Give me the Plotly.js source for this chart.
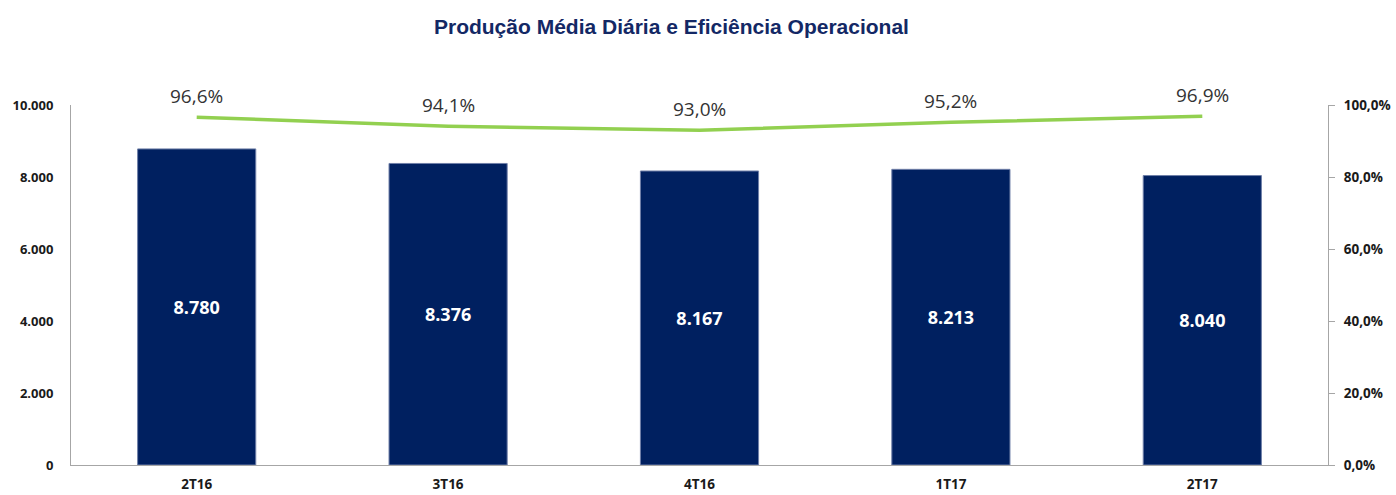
<!DOCTYPE html>
<html>
<head>
<meta charset="utf-8">
<script src="https://cdn.plot.ly/plotly-3.0.1.min.js"></script>
<style>html,body{margin:0;padding:0;background:#fff;}#chart{width:1396px;height:495px;}</style>
</head>
<body>
<div id="chart"></div>
<script>
var categories = ["2T16", "3T16", "4T16", "1T17", "2T17"];
var production = [8780, 8376, 8167, 8213, 8040];
var efficiency = [0.966, 0.941, 0.930, 0.952, 0.969];
var titleText = "Produção Média Diária e Eficiência Operacional";

function pct(v) { return (v * 100).toFixed(1).replace(".", ",") + "%"; }

var bars = {
  type: "bar", x: categories, y: production,
  marker: {color: "#002060", line: {color: "#6f7fa8", width: 1}},
  width: 0.47,
  texttemplate: "%{y:,.0f}", textposition: "inside", insidetextanchor: "middle",
  textfont: {family: "Open Sans, sans-serif", size: 18, color: "#ffffff", weight: "bold"},
  hoverinfo: "none", cliponaxis: false
};
var line = {
  type: "scatter", mode: "lines", x: categories, y: efficiency, yaxis: "y2",
  line: {color: "#92D050", width: 3.5},
  cliponaxis: false, hoverinfo: "none"
};
var annotations = categories.map(function (c, i) {
  return {x: c, y: efficiency[i], xref: "x", yref: "y2", text: pct(efficiency[i]),
    showarrow: false, xanchor: "center", yanchor: "middle", yshift: 21,
    font: {family: "Open Sans, sans-serif", size: 19, color: "#333333"}};
});
var layout = {
  width: 1396, height: 495,
  separators: ",.",
  showlegend: false,
  paper_bgcolor: "#ffffff", plot_bgcolor: "#ffffff",
  margin: {l: 71, r: 68, t: 105, b: 30, pad: 0},
  title: {text: "<b>" + titleText + "</b>", x: 0.481, xanchor: "center", y: 0.947, yanchor: "middle",
    font: {family: "Liberation Sans Narrow, Arial Narrow, sans-serif", size: 21, color: "#132865"}},
  font: {family: "Open Sans, sans-serif"},
  annotations: annotations,
  xaxis: {showgrid: false, zeroline: false, showline: true, linecolor: "#a6a6a6", linewidth: 1,
    ticks: "", tickfont: {size: 13.5, color: "#1a1a1a", weight: "bold"}, ticklabelstandoff: 7},
  yaxis: {range: [0, 10000], tickvals: [0, 2000, 4000, 6000, 8000, 10000], tickformat: ",.0f",
    showgrid: false, zeroline: false, showline: true, linecolor: "#a6a6a6", linewidth: 1, ticks: "",
    tickfont: {size: 13, color: "#1a1a1a", weight: "bold"}, ticklabelstandoff: 14},
  yaxis2: {range: [0, 1], overlaying: "y", side: "right", tickvals: [0, 0.2, 0.4, 0.6, 0.8, 1], tickformat: ".1%",
    showgrid: false, zeroline: false, showline: true, linecolor: "#a6a6a6", linewidth: 1,
    ticks: "outside", ticklen: 6, tickcolor: "#a6a6a6",
    tickfont: {size: 13.5, color: "#1a1a1a", weight: "bold"}, ticklabelstandoff: 6}
};
Plotly.newPlot("chart", [bars, line], layout, {displayModeBar: false, staticPlot: true});
</script>
</body>
</html>
